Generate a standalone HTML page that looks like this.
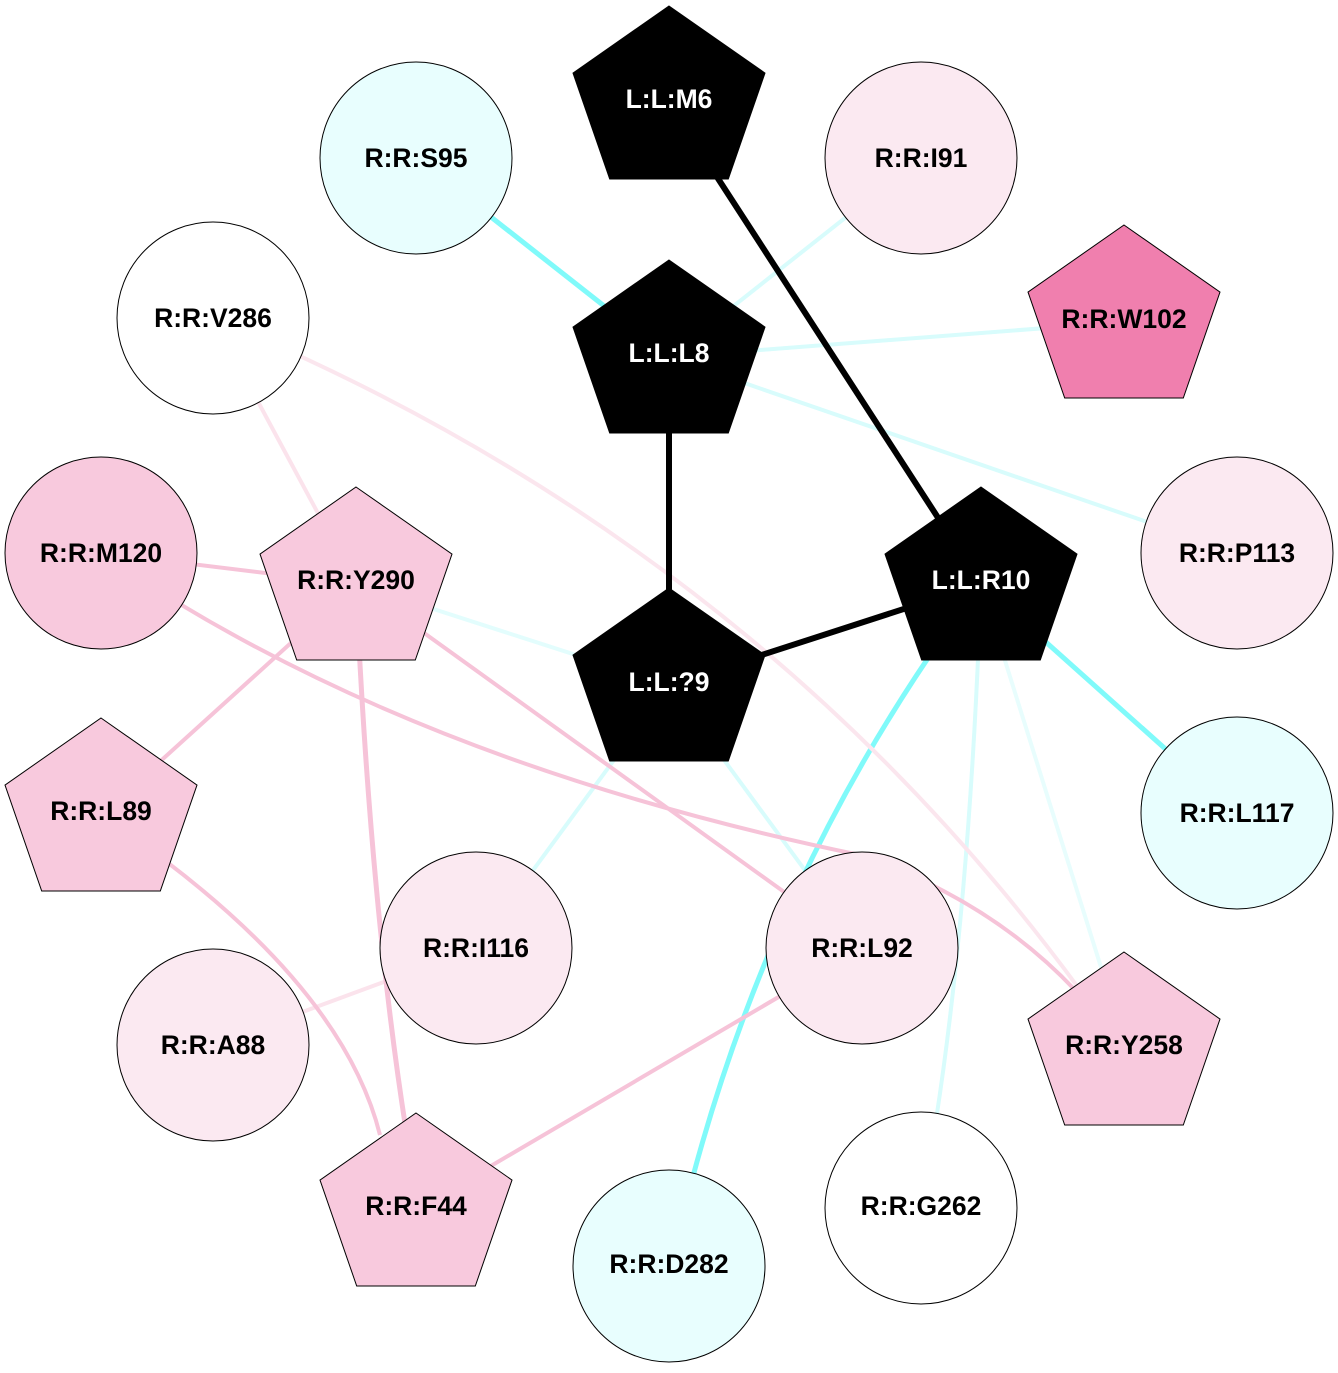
<!DOCTYPE html>
<html><head><meta charset="utf-8"><style>
html,body{margin:0;padding:0;background:#fff}
svg text{font-family:"Liberation Sans",Arial,sans-serif;font-weight:bold;font-size:26.5px;text-anchor:middle;dominant-baseline:central}
</style></head><body>
<svg width="1338" height="1368" viewBox="0 0 1338 1368" xmlns="http://www.w3.org/2000/svg">
<g fill="none" stroke-linecap="butt">
<path d="M669,357 L921,158" stroke="#d8fcfc" stroke-width="4"/>
<path d="M669,357 L1124,322" stroke="#d8fcfc" stroke-width="4"/>
<path d="M669,357 L1237,553" stroke="#d8fcfc" stroke-width="4"/>
<path d="M669,685 L476,948" stroke="#d8fcfc" stroke-width="4"/>
<path d="M669,685 L862,948" stroke="#d8fcfc" stroke-width="4"/>
<path d="M356,584 L669,685" stroke="#e3fdfd" stroke-width="4"/>
<path d="M981,584 Q970,900 936,1120" stroke="#d8fcfc" stroke-width="4"/>
<path d="M981,584 L1105,980" stroke="#e8fdfd" stroke-width="4"/>
<path d="M416,158 L669,357" stroke="#80fafa" stroke-width="5"/>
<path d="M981,584 L1237,813" stroke="#80fafa" stroke-width="5"/>
<path d="M981,584 Q780,850 692,1180" stroke="#80fafa" stroke-width="5"/>
<path d="M213,318 L356,584" stroke="#fbe3ec" stroke-width="4"/>
<path d="M213,318 Q750,540 1080,990" stroke="#fbe6ee" stroke-width="4"/>
<path d="M476,948 L213,1045" stroke="#fbe3ec" stroke-width="4"/>
<path d="M101,553 L356,584" stroke="#f6c3d8" stroke-width="4"/>
<path d="M101,553 Q400,760 860,855 Q990,900 1075,990" stroke="#f6c3d8" stroke-width="4"/>
<path d="M356,584 L862,948" stroke="#f6c3d8" stroke-width="4"/>
<path d="M356,584 L101,815" stroke="#f6c3d8" stroke-width="4"/>
<path d="M356,584 Q370,900 406,1130" stroke="#f6c3d8" stroke-width="5"/>
<path d="M101,815 Q340,975 380,1135" stroke="#f6c3d8" stroke-width="4"/>
<path d="M862,948 L416,1210" stroke="#f6c3d8" stroke-width="4"/>
<path d="M669,103 L981,584" stroke="#000" stroke-width="6"/>
<path d="M669,357 L669,685" stroke="#000" stroke-width="6"/>
<path d="M669,685 L981,584" stroke="#000" stroke-width="6"/>
</g>
<defs><polygon id="pg" points="0,-97 96,-29.97 59.3,76 -59.3,76 -96,-29.97"/></defs>
<g stroke="#000" stroke-width="1">
<circle cx="416" cy="158" r="96" fill="#e8fefe"/>
<circle cx="921" cy="158" r="96" fill="#fbe9f1"/>
<circle cx="213" cy="318" r="96" fill="#fff"/>
<circle cx="101" cy="553" r="96" fill="#f8c9dd"/>
<circle cx="1237" cy="553" r="96" fill="#fbe9f1"/>
<circle cx="1237" cy="813" r="96" fill="#e8fefe"/>
<circle cx="476" cy="948" r="96" fill="#fbe9f1"/>
<circle cx="862" cy="948" r="96" fill="#fbe9f1"/>
<circle cx="213" cy="1045" r="96" fill="#fbe9f1"/>
<circle cx="921" cy="1208" r="96" fill="#fff"/>
<circle cx="669" cy="1266" r="96" fill="#e8fefe"/>
<use href="#pg" x="669" y="103" fill="#000"/>
<use href="#pg" x="669" y="357" fill="#000"/>
<use href="#pg" x="669" y="685" fill="#000"/>
<use href="#pg" x="981" y="584" fill="#000"/>
<use href="#pg" x="1124" y="322" fill="#f07fae"/>
<use href="#pg" x="356" y="584" fill="#f8c9dd"/>
<use href="#pg" x="101" y="815" fill="#f8c9dd"/>
<use href="#pg" x="1124" y="1049" fill="#f8c9dd"/>
<use href="#pg" x="416" y="1210" fill="#f8c9dd"/>
</g>
<g fill="#000">
<text x="416" y="158">R:R:S95</text>
<text x="921" y="158">R:R:I91</text>
<text x="213" y="318">R:R:V286</text>
<text x="101" y="553">R:R:M120</text>
<text x="1237" y="553">R:R:P113</text>
<text x="1237" y="813">R:R:L117</text>
<text x="476" y="948">R:R:I116</text>
<text x="862" y="948">R:R:L92</text>
<text x="213" y="1045">R:R:A88</text>
<text x="921" y="1206">R:R:G262</text>
<text x="669" y="1264">R:R:D282</text>
<text x="1124" y="319">R:R:W102</text>
<text x="356" y="580">R:R:Y290</text>
<text x="101" y="811">R:R:L89</text>
<text x="1124" y="1045">R:R:Y258</text>
<text x="416" y="1206">R:R:F44</text>
</g>
<g fill="#fff">
<text x="669" y="99">L:L:M6</text>
<text x="669" y="353">L:L:L8</text>
<text x="669" y="682">L:L:?9</text>
<text x="981" y="580">L:L:R10</text>
</g>
</svg>
</body></html>
